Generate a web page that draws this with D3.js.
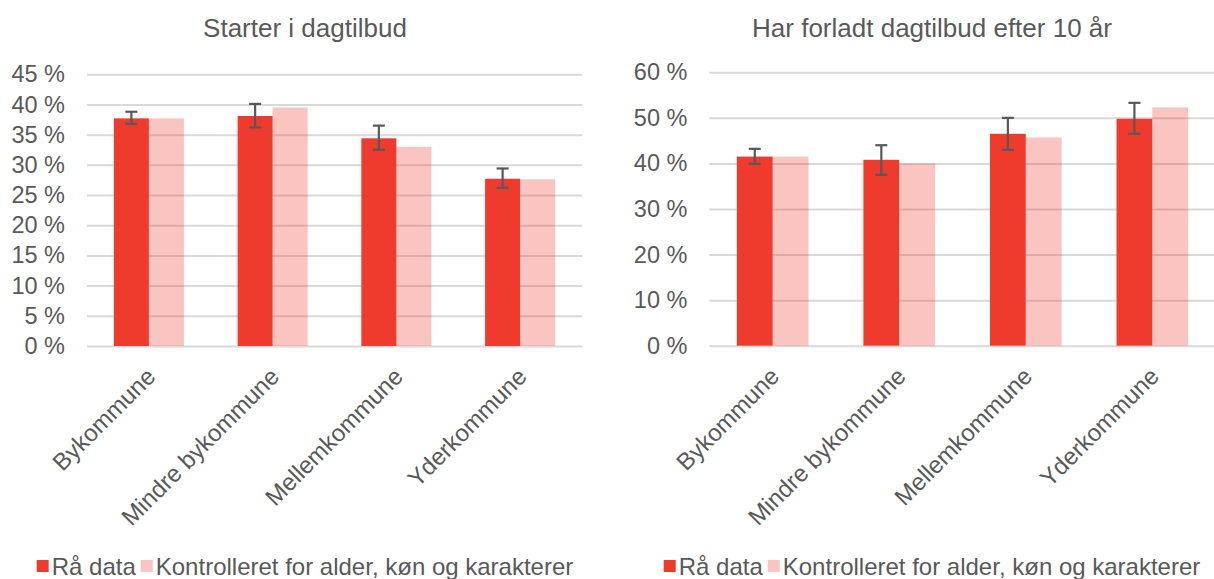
<!DOCTYPE html>
<html>
<head>
<meta charset="utf-8">
<script src="https://cdn.jsdelivr.net/npm/d3@7"></script>
<style>
  html, body { margin: 0; padding: 0; background: #fff; }
  svg { display: block; }
  text { font-family: "Liberation Sans", Arial, sans-serif; fill: #595959; }
</style>
</head>
<body>
<svg id="chart" width="1214" height="579"></svg>
<script>
// ---- Data ----
const categories = ["Bykommune", "Mindre bykommune", "Mellemkommune", "Yderkommune"];
const seriesNames = ["Rå data", "Kontrolleret for alder, køn og karakterer"];

const titleLeft = "Starter i dagtilbud";
const rawLeft = [37.7, 38.1, 34.4, 27.7];
const ctrlLeft = [37.7, 39.5, 33.0, 27.6];
const errLowLeft = [36.8, 36.2, 32.5, 26.2];
const errHighLeft = [38.8, 40.1, 36.5, 29.4];
const ticksLeft = [0, 5, 10, 15, 20, 25, 30, 35, 40, 45];

const titleRight = "Har forladt dagtilbud efter 10 år";
const rawRight = [41.5, 40.8, 46.5, 49.8];
const ctrlRight = [41.5, 40.0, 45.7, 52.3];
const errLowRight = [39.9, 37.5, 43.0, 46.5];
const errHighRight = [43.2, 44.0, 50.0, 53.3];
const ticksRight = [0, 10, 20, 30, 40, 50, 60];

// ---- Styling ----
const RED = "#EE3B2E";
const PINK_OPACITY = 0.3;
const GRID = "#D9D9D9";
const ERR = "#595959";

const svg = d3.select("#chart");

function drawPanel(cfg) {
  const g = svg.append("g");
  const x = d3.scaleBand().domain(categories).range([cfg.x0, cfg.x1])
    .paddingInner(0.434).paddingOuter(0.217);
  const xs = d3.scaleBand().domain(["raw", "ctrl"]).range([0, x.bandwidth()]);
  const y = d3.scaleLinear().domain([0, cfg.ticks[cfg.ticks.length - 1]]).range([cfg.yBottom, cfg.yTop]);

  // gridlines via axis
  const yAxis = d3.axisLeft(y).tickValues(cfg.ticks).tickSize(-(cfg.x1 - cfg.x0))
    .tickFormat(d => d + " %").tickPadding(22);
  const ag = g.append("g").attr("transform", `translate(${cfg.x0},0)`).call(yAxis);
  ag.select(".domain").remove();
  ag.selectAll(".tick line").attr("stroke", GRID).attr("stroke-width", 2);
  ag.selectAll(".tick text").attr("font-size", 23.5).attr("fill", "#595959")
    .style("font-family", '"Liberation Sans", Arial, sans-serif');

  const rows = categories.map((c, i) => ({
    c, raw: cfg.raw[i], ctrl: cfg.ctrl[i], lo: cfg.lo[i], hi: cfg.hi[i]
  }));

  // raw bars
  g.selectAll(".raw").data(rows).enter().append("rect")
    .attr("x", d => x(d.c) + xs("raw"))
    .attr("width", xs.bandwidth())
    .attr("y", d => y(d.raw))
    .attr("height", d => y(0) - y(d.raw))
    .attr("fill", RED);
  // controlled bars (semi-transparent)
  g.selectAll(".ctrl").data(rows).enter().append("rect")
    .attr("x", d => x(d.c) + xs("ctrl"))
    .attr("width", xs.bandwidth())
    .attr("y", d => y(d.ctrl))
    .attr("height", d => y(0) - y(d.ctrl))
    .attr("fill", RED).attr("fill-opacity", PINK_OPACITY);

  // error bars on raw
  const eg = g.selectAll(".err").data(rows).enter().append("g")
    .attr("stroke", ERR).attr("stroke-width", 2.2);
  const cxE = d => x(d.c) + xs("raw") + xs.bandwidth() / 2;
  eg.append("line").attr("x1", cxE).attr("x2", cxE)
    .attr("y1", d => y(d.lo)).attr("y2", d => y(d.hi));
  eg.append("line").attr("x1", d => cxE(d) - 6).attr("x2", d => cxE(d) + 6)
    .attr("y1", d => y(d.lo)).attr("y2", d => y(d.lo));
  eg.append("line").attr("x1", d => cxE(d) - 6).attr("x2", d => cxE(d) + 6)
    .attr("y1", d => y(d.hi)).attr("y2", d => y(d.hi));

  // category labels, rotated
  g.selectAll(".cat").data(categories).enter().append("text")
    .attr("transform", d => `translate(${x(d) + x.bandwidth() / 2 + 8},${cfg.yBottom + 32}) rotate(-45)`)
    .attr("text-anchor", "end")
    .attr("font-size", 24)
    .text(d => d);

  // title
  g.append("text").attr("x", cfg.cx).attr("y", 37).attr("text-anchor", "middle")
    .attr("font-size", 26).text(cfg.title);

  // legend
  const lg = g.append("g");
  const sw = 12;
  const items = [{ name: seriesNames[0], op: 1 }, { name: seriesNames[1], op: PINK_OPACITY }];
  let xpos = 0;
  const nodes = [];
  items.forEach(it => {
    const r = lg.append("rect").attr("x", xpos).attr("y", -sw / 2 - 1).attr("width", sw).attr("height", sw)
      .attr("fill", RED).attr("fill-opacity", it.op);
    xpos += sw + 3;
    const t = lg.append("text").attr("x", xpos).attr("y", 0).attr("dy", "0.35em")
      .attr("font-size", 24).text(it.name);
    xpos += t.node().getComputedTextLength() + 5;
  });
  const total = xpos - 5;
  lg.attr("transform", `translate(${cfg.cx - total / 2},567)`);
}

drawPanel({
  x0: 87, x1: 582, yBottom: 346, yTop: 74.3, ticks: ticksLeft,
  raw: rawLeft, ctrl: ctrlLeft, lo: errLowLeft, hi: errHighLeft,
  title: titleLeft, cx: 305
});
drawPanel({
  x0: 709.4, x1: 1215.6, yBottom: 345.7, yTop: 72.3, ticks: ticksRight,
  raw: rawRight, ctrl: ctrlRight, lo: errLowRight, hi: errHighRight,
  title: titleRight, cx: 932
});
</script>
</body>
</html>
